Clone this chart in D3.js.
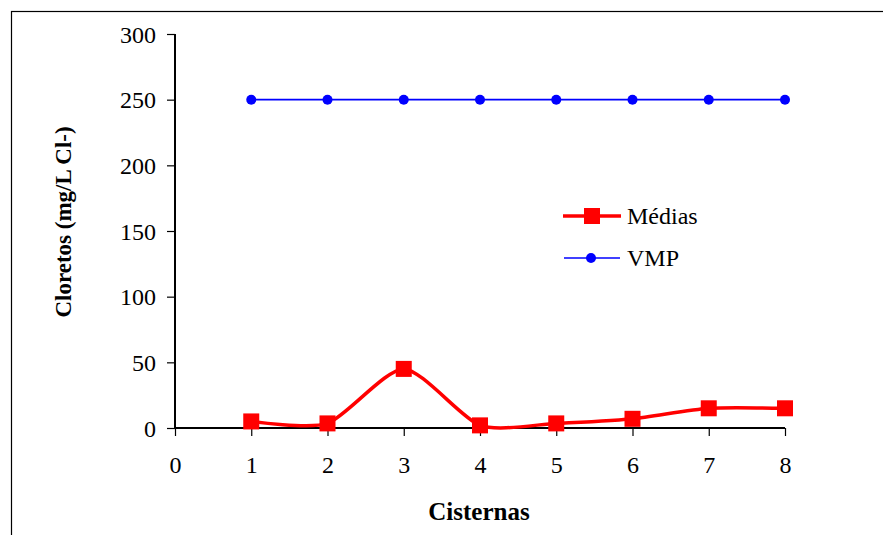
<!DOCTYPE html>
<html>
<head>
<meta charset="utf-8">
<script src="https://cdn.jsdelivr.net/npm/d3@7"></script>
<style>
  html, body { margin: 0; padding: 0; background: #fff; }
  svg { display: block; }
  text { font-family: "Liberation Serif", "Times New Roman", serif; fill: #000; }
</style>
</head>
<body>
<script>
// Cisterns and chloride values (mg/L Cl-)
const cisternas = [1, 2, 3, 4, 5, 6, 7, 8];
const medias = [5, 3.5, 45, 2, 3.5, 7, 15, 15];
const vmp = [250, 250, 250, 250, 250, 250, 250, 250];
const xTicks = [0, 1, 2, 3, 4, 5, 6, 7, 8];
const yTicks = [0, 50, 100, 150, 200, 250, 300];
const seriesNames = ["Médias", "VMP"];

const W = 883, H = 535;
const serif = "'Liberation Serif', 'Times New Roman', serif";
const svg = d3.select("body").append("svg").attr("width", W).attr("height", H);

// outer frame (runs off the right and bottom edges)
svg.append("rect")
  .attr("x", 11.5).attr("y", 11.5)
  .attr("width", W + 20).attr("height", H + 20)
  .attr("fill", "none").attr("stroke", "#000").attr("stroke-width", 1.2);

const plot = { left: 175, right: 785, top: 34, bottom: 428 };
const x = d3.scaleLinear().domain([0, 8]).range([plot.left, plot.right]);
const y = d3.scaleLinear().domain([0, 300]).range([plot.bottom, plot.top]);

// y axis
const yAxis = svg.append("g")
  .attr("transform", `translate(${plot.left},0)`)
  .call(d3.axisLeft(y).tickValues(yTicks).tickSize(8).tickPadding(11).tickFormat(d3.format("d")));
yAxis.attr("font-family", serif);
yAxis.select(".domain").attr("stroke", "#000").attr("stroke-width", 2).attr("d", `M0,${plot.top}V${plot.bottom}`);
yAxis.selectAll(".tick line").attr("stroke", "#000").attr("stroke-width", 1.2);
yAxis.selectAll(".tick text").style("font-size", "24px").attr("dy", "0.34em");

// x axis
const xAxis = svg.append("g")
  .attr("transform", `translate(0,${plot.bottom})`)
  .call(d3.axisBottom(x).tickValues(xTicks).tickSize(8).tickPadding(20).tickFormat(d3.format("d")));
xAxis.attr("font-family", serif);
xAxis.select(".domain").attr("stroke", "#000").attr("stroke-width", 2).attr("d", `M${plot.left},0H${plot.right}`);
xAxis.selectAll(".tick line").attr("stroke", "#000").attr("stroke-width", 1.2);
xAxis.selectAll(".tick text").style("font-size", "24px");

// axis titles
svg.append("text")
  .attr("x", 479).attr("y", 520)
  .attr("text-anchor", "middle")
  .style("font-size", "25px").style("font-weight", "bold")
  .text("Cisternas");
svg.append("text")
  .attr("transform", `translate(71,222) rotate(-90)`)
  .attr("text-anchor", "middle")
  .style("font-size", "23px").style("font-weight", "bold")
  .text("Cloretos (mg/L Cl-)");

// VMP line (straight)
const vmpData = cisternas.map((c, i) => [c, vmp[i]]);
svg.append("path")
  .datum(vmpData)
  .attr("fill", "none").attr("stroke", "#0000ff").attr("stroke-width", 1.6)
  .attr("d", d3.line().x(d => x(d[0])).y(d => y(d[1])));
svg.selectAll(".vmp-pt").data(vmpData).enter().append("circle")
  .attr("cx", d => x(d[0])).attr("cy", d => y(d[1])).attr("r", 5)
  .attr("fill", "#0000ff");

// Médias line (smoothed)
const medData = cisternas.map((c, i) => [c, medias[i]]);
svg.append("path")
  .datum(medData)
  .attr("fill", "none").attr("stroke", "#ff0000").attr("stroke-width", 3.5)
  .attr("stroke-linejoin", "round")
  .attr("d", d3.line().curve(d3.curveCardinal.tension(0.3)).x(d => x(d[0])).y(d => y(d[1])));
const sq = 16;
svg.selectAll(".med-pt").data(medData).enter().append("rect")
  .attr("x", d => x(d[0]) - sq / 2).attr("y", d => y(d[1]) - sq / 2)
  .attr("width", sq).attr("height", sq)
  .attr("fill", "#ff0000");

// legend
const legend = svg.append("g");
const legY = [216, 258];
legend.append("line").attr("x1", 563).attr("x2", 621).attr("y1", legY[0]).attr("y2", legY[0])
  .attr("stroke", "#ff0000").attr("stroke-width", 3.5);
legend.append("rect").attr("x", 592 - 8).attr("y", legY[0] - 8).attr("width", 16).attr("height", 16).attr("fill", "#ff0000");
legend.append("line").attr("x1", 564).attr("x2", 620).attr("y1", legY[1]).attr("y2", legY[1])
  .attr("stroke", "#0000ff").attr("stroke-width", 1.6);
legend.append("circle").attr("cx", 591).attr("cy", legY[1]).attr("r", 5).attr("fill", "#0000ff");
legend.selectAll(".leg-text").data(seriesNames).enter().append("text")
  .attr("x", 627).attr("y", (d, i) => legY[i]).attr("dy", "0.34em")
  .style("font-size", "24px")
  .text(d => d);
</script>
</body>
</html>
